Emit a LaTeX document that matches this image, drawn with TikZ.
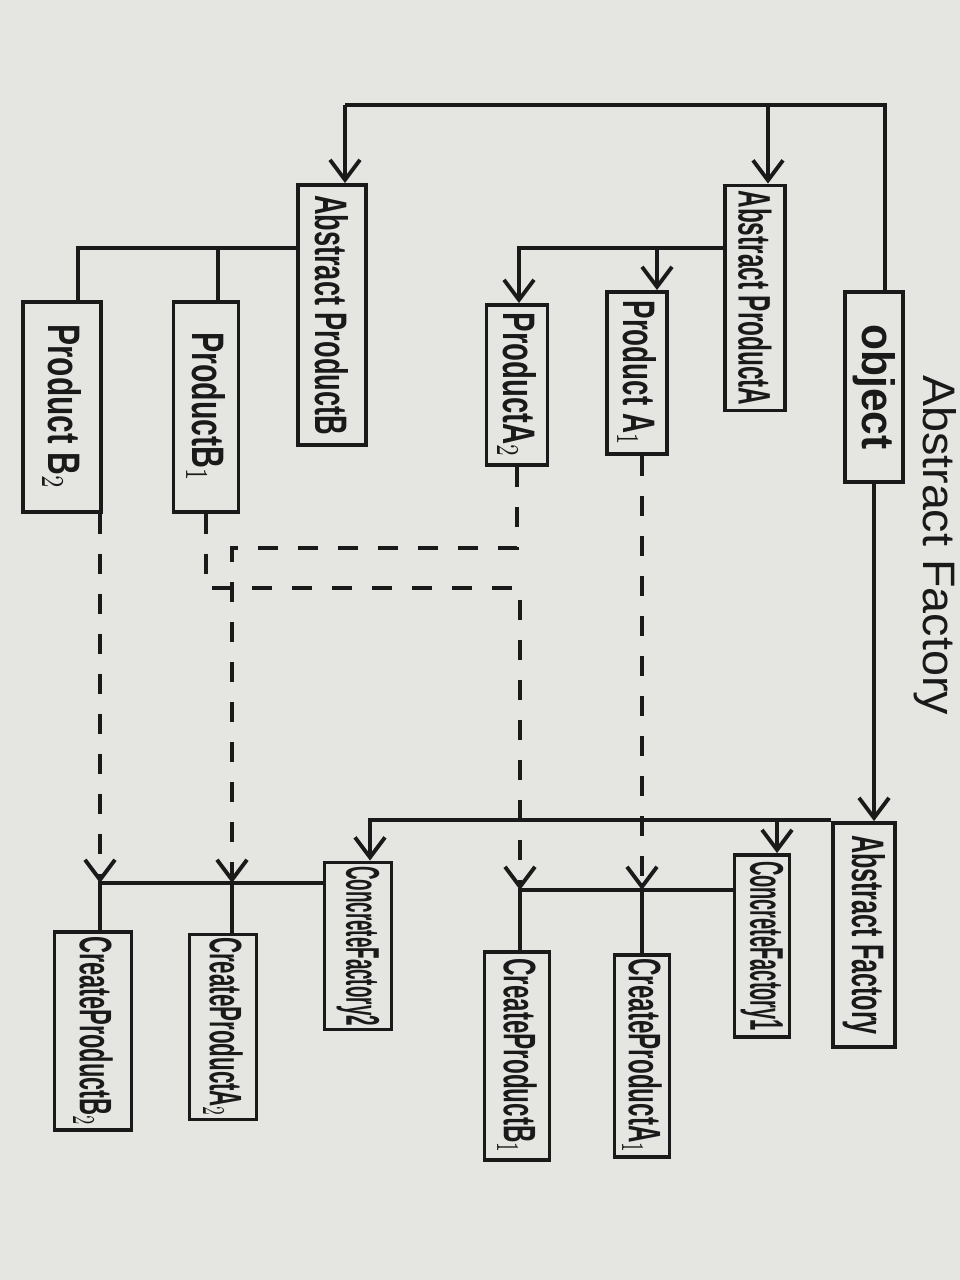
\documentclass[tikz,border=0pt]{standalone}
\usepackage{fontspec}
\setmainfont{Liberation Sans}
\usepackage{graphicx}
\usepackage{tikz}
\usetikzlibrary{arrows.meta}
\definecolor{PaperGray}{RGB}{229,229,226}
\definecolor{InkBlack}{RGB}{26,26,26}
\newcommand{\vtext}[2]{\rotatebox{-90}{\resizebox{#1}{3.3mm}{#2}}}

\begin{document}
\begin{tikzpicture}[x=0.1mm,y=-0.1mm,>={Straight Barb[length=2mm,width=3mm]},
  line width=1.1pt,color=InkBlack,
  cls/.style={draw,inner sep=0pt,font=\bfseries},
  dashy/.style={dash pattern=on 2mm off 2mm}]
\fill[PaperGray] (0,0) rectangle (960,1280);
\useasboundingbox (0,0) rectangle (960,1280);
\node (title) at (935,545) {\vtext{34mm}{Abstract Factory}};

\node[cls,minimum width=5.8mm,minimum height=19mm] (obj) at (874,387) {\vtext{12.5mm}{object}};
\node[cls,minimum width=6mm,minimum height=22.5mm] (absA) at (755,298) {\vtext{21.5mm}{Abstract ProductA}};
\node[cls,minimum width=6mm,minimum height=16.2mm] (prodA1) at (637,373) {\vtext{14.5mm}{Product A$_1$}};
\node[cls,minimum width=6.1mm,minimum height=16mm] (prodA2) at (517,385) {\vtext{14.5mm}{ProductA$_2$}};
\node[cls,minimum width=6.8mm,minimum height=26mm] (absB) at (332,315) {\vtext{24mm}{Abstract ProductB}};
\node[cls,minimum width=6.5mm,minimum height=21mm] (prodB1) at (206,407) {\vtext{15mm}{ProductB$_1$}};
\node[cls,minimum width=7.8mm,minimum height=21mm] (prodB2) at (62,407) {\vtext{16.5mm}{Product B$_2$}};

\node[cls,minimum width=6.2mm,minimum height=22.4mm] (absFac) at (864,935) {\vtext{20mm}{Abstract Factory}};
\node[cls,minimum width=5.5mm,minimum height=18.2mm] (conc1) at (762,946) {\vtext{17mm}{ConcreteFactory1}};
\node[cls,minimum width=5.5mm,minimum height=20.2mm] (cA1) at (642,1056) {\vtext{19.5mm}{CreateProductA$_1$}};
\node[cls,minimum width=6.5mm,minimum height=20.8mm] (cB1) at (517,1056) {\vtext{19.5mm}{CreateProductB$_1$}};
\node[cls,minimum width=6.7mm,minimum height=16.7mm] (conc2) at (358,946) {\vtext{16mm}{ConcreteFactory2}};
\node[cls,minimum width=6.7mm,minimum height=18.5mm] (cA2) at (223,1027) {\vtext{18mm}{CreateProductA$_2$}};
\node[cls,minimum width=7.7mm,minimum height=19.8mm] (cB2) at (93,1031) {\vtext{19mm}{CreateProductB$_2$}};

\coordinate (busR) at (885,105);
\coordinate (busL) at (345,105);
\coordinate (jA) at (768,105);
\draw (busR |- obj.north) -- (busR) -- (busL);
\draw[->] (busL) -- (busL |- absB.north);
\draw[->] (jA) -- (jA |- absA.north);
\draw[->] (obj.south) -- (obj.south |- absFac.north);

\coordinate (busA) at (519,248);
\coordinate (jA1) at (657,248);
\draw[->] (absA.west |- busA) -- (busA) -- (busA |- prodA2.north);
\draw[->] (jA1) -- (jA1 |- prodA1.north);

\coordinate (busB) at (78,248);
\coordinate (jB1) at (218,248);
\draw (absB.west |- busB) -- (busB) -- (busB |- prodB2.north);
\draw (jB1) -- (jB1 |- prodB1.north);

\coordinate (busF) at (370,820);
\coordinate (jF1) at (777,820);
\draw[->] (absFac.west |- busF) -- (busF) -- (busF |- conc2.north);
\draw[->] (jF1) -- (jF1 |- conc1.north);

\coordinate (busC1) at (520,890);
\coordinate (jC1) at (642,890);
\draw (conc1.west |- busC1) -- (busC1) -- (busC1 |- cB1.north);
\draw (jC1) -- (jC1 |- cA1.north);

\coordinate (busC2) at (100,883);
\coordinate (jC2) at (232,883);
\draw (conc2.west |- busC2) -- (busC2) -- (busC2 |- cB2.north);
\draw (jC2) -- (jC2 |- cA2.north);

\coordinate (bendA) at (232,548);
\coordinate (bendB) at (520,588);
\draw[dashy,->] (jC1 |- prodA1.south) -- (jC1);
\draw[dashy,->] (prodA2.south) |- (bendA) -- (jC2);
\draw[dashy,->] (prodB1.south) |- (bendB) -- (busC1);
\draw[dashy,->] (busC2 |- prodB2.south) -- (busC2);
\end{tikzpicture}
\end{document}
